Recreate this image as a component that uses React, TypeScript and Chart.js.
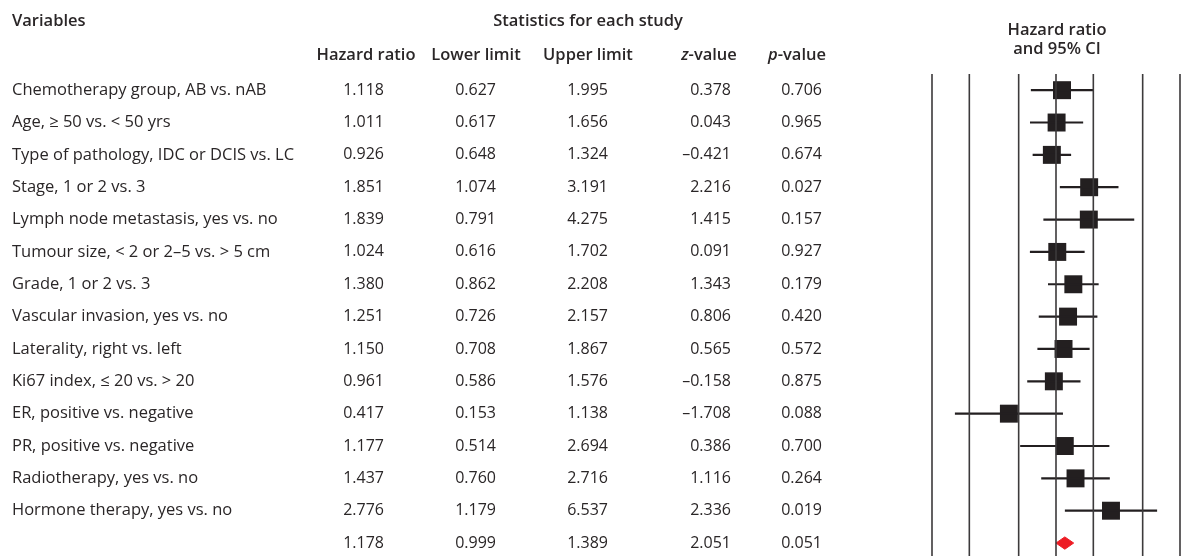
import React, { useEffect, useRef } from "react";
import { Chart, registerables } from "chart.js";

Chart.register(...registerables);

// ---------- data ----------
const variables = [
  "Chemotherapy group, AB vs. nAB",
  "Age, \u2265 50 vs. < 50 yrs",
  "Type of pathology, IDC or DCIS vs. LC",
  "Stage, 1 or 2 vs. 3",
  "Lymph node metastasis, yes vs. no",
  "Tumour size, < 2 or 2\u20135 vs. > 5 cm",
  "Grade, 1 or 2 vs. 3",
  "Vascular invasion, yes vs. no",
  "Laterality, right vs. left",
  "Ki67 index, \u2264 20 vs. > 20",
  "ER, positive vs. negative",
  "PR, positive vs. negative",
  "Radiotherapy, yes vs. no",
  "Hormone therapy, yes vs. no",
];
const hazardRatio = [1.118, 1.011, 0.926, 1.851, 1.839, 1.024, 1.38, 1.251, 1.15, 0.961, 0.417, 1.177, 1.437, 2.776];
const lowerLimit = [0.627, 0.617, 0.648, 1.074, 0.791, 0.616, 0.862, 0.726, 0.708, 0.586, 0.153, 0.514, 0.76, 1.179];
const upperLimit = [1.995, 1.656, 1.324, 3.191, 4.275, 1.702, 2.208, 2.157, 1.867, 1.576, 1.138, 2.694, 2.716, 6.537];
const zValue = [0.378, 0.043, -0.421, 2.216, 1.415, 0.091, 1.343, 0.806, 0.565, -0.158, -1.708, 0.386, 1.116, 2.336];
const pValue = [0.706, 0.965, 0.674, 0.027, 0.157, 0.927, 0.179, 0.42, 0.572, 0.875, 0.088, 0.7, 0.264, 0.019];

const summaryHR = 1.178;
const summaryLower = 0.999;
const summaryUpper = 1.389;
const summaryZ = 2.051;
const summaryP = 0.051;

const gridTicks = [0.1, 0.2, 0.5, 1, 2, 5, 10];

// ---------- style ----------
const FONT = '"Open Sans", "Noto Sans", sans-serif';
const TEXT = "#2a2627";
const INK = "#231f20";

const fmt = (v: number) => (v < 0 ? "\u2013" + Math.abs(v).toFixed(3) : v.toFixed(3));

export default function App() {
  const ref = useRef<HTMLCanvasElement | null>(null);

  useEffect(() => {
    document.body.style.margin = "0";
    const canvas = ref.current;
    if (!canvas) return;
    const nRows = variables.length + 1;
    const summaryRow = variables.length;

    const datasets: any[] = [];
    gridTicks.forEach((v) => {
      datasets.push({
        type: "line",
        data: [
          { x: v, y: -0.5 },
          { x: v, y: nRows - 0.6 },
        ],
        borderColor: "#3c3a3b",
        borderWidth: 1.6,
        pointRadius: 0,
        clip: false,
      });
    });
    variables.forEach((_, i) => {
      datasets.push({
        type: "line",
        data: [
          { x: lowerLimit[i], y: i },
          { x: upperLimit[i], y: i },
        ],
        borderColor: INK,
        borderWidth: 2.2,
        pointRadius: 0,
        clip: false,
      });
    });
    datasets.push({
      type: "scatter",
      data: hazardRatio.map((v, i) => ({ x: v, y: i })),
      pointStyle: "rect",
      pointRadius: 12.7,
      pointHoverRadius: 12.7,
      backgroundColor: INK,
      borderWidth: 0,
      clip: false,
    });
    const dh = 0.19;
    datasets.push({
      type: "line",
      data: [
        { x: summaryLower, y: summaryRow },
        { x: summaryHR, y: summaryRow - dh },
        { x: summaryUpper, y: summaryRow },
        { x: summaryHR, y: summaryRow + dh },
        { x: summaryLower, y: summaryRow },
      ],
      borderColor: "#ed1c24",
      backgroundColor: "#ed1c24",
      borderWidth: 1,
      pointRadius: 0,
      fill: "shape",
      clip: false,
    });

    const tablePlugin = {
      id: "table",
      afterDraw(chart: any) {
        const ctx = chart.ctx as CanvasRenderingContext2D;
        const ys = chart.scales.y;
        ctx.save();
        ctx.fillStyle = TEXT;
        ctx.textBaseline = "middle";

        const semibold = `600 16.5px ${FONT}`;
        const semiboldItalic = `italic 600 16.5px ${FONT}`;
        const regular = `400 16.5px ${FONT}`;
        const numFont = `400 16px ${FONT}`;

        // headers
        ctx.font = semibold;
        ctx.textAlign = "left";
        ctx.fillText("Variables", 12, 21);
        ctx.textAlign = "center";
        ctx.fillText("Statistics for each study", 588, 21);
        ctx.fillText("Hazard ratio", 366, 55);
        ctx.fillText("Lower limit", 476, 55);
        ctx.fillText("Upper limit", 588, 55);
        ctx.fillText("Hazard ratio", 1057, 30);
        ctx.fillText("and 95% CI", 1057, 49);

        const mixed = (letter: string, rest: string, cx: number, y: number) => {
          ctx.font = semiboldItalic;
          const w1 = ctx.measureText(letter).width;
          ctx.font = semibold;
          const w2 = ctx.measureText(rest).width;
          const x0 = cx - (w1 + w2) / 2;
          ctx.textAlign = "left";
          ctx.font = semiboldItalic;
          ctx.fillText(letter, x0, y);
          ctx.font = semibold;
          ctx.fillText(rest, x0 + w1, y);
        };
        mixed("z", "-value", 709, 55);
        mixed("p", "-value", 797, 55);

        // rows
        const drawRow = (i: number, label: string, hr: number, lo: number, hi: number, z: number, p: number) => {
          const y = ys.getPixelForValue(i);
          ctx.font = regular;
          ctx.textAlign = "left";
          ctx.fillText(label, 12, y);
          ctx.font = numFont;
          ctx.textAlign = "right";
          ctx.fillText(fmt(hr), 384, y);
          ctx.fillText(fmt(lo), 496, y);
          ctx.fillText(fmt(hi), 608, y);
          ctx.fillText(fmt(z), 731, y);
          ctx.fillText(fmt(p), 822, y);
        };
        variables.forEach((label, i) =>
          drawRow(i, label, hazardRatio[i], lowerLimit[i], upperLimit[i], zValue[i], pValue[i])
        );
        drawRow(summaryRow, "", summaryHR, summaryLower, summaryUpper, summaryZ, summaryP);
        ctx.restore();
      },
    };

    const chart = new Chart(canvas, {
      type: "scatter",
      data: { datasets },
      options: {
        animation: false,
        responsive: false,
        devicePixelRatio: 1,
        layout: { autoPadding: false, padding: { left: 932, right: 7, top: 74, bottom: 0 } },
        plugins: { legend: { display: false }, tooltip: { enabled: false } },
        scales: {
          x: { type: "logarithmic", min: 0.1, max: 10, display: false },
          y: { type: "linear", min: -0.5, max: nRows - 0.6, reverse: true, display: false },
        },
      },
      plugins: [tablePlugin],
    } as any);

    return () => chart.destroy();
  }, []);

  return (
    <div style={{ width: 1187, height: 556, background: "#fff" }}>
      <canvas ref={ref} width={1187} height={556} style={{ display: "block" }} />
    </div>
  );
}
